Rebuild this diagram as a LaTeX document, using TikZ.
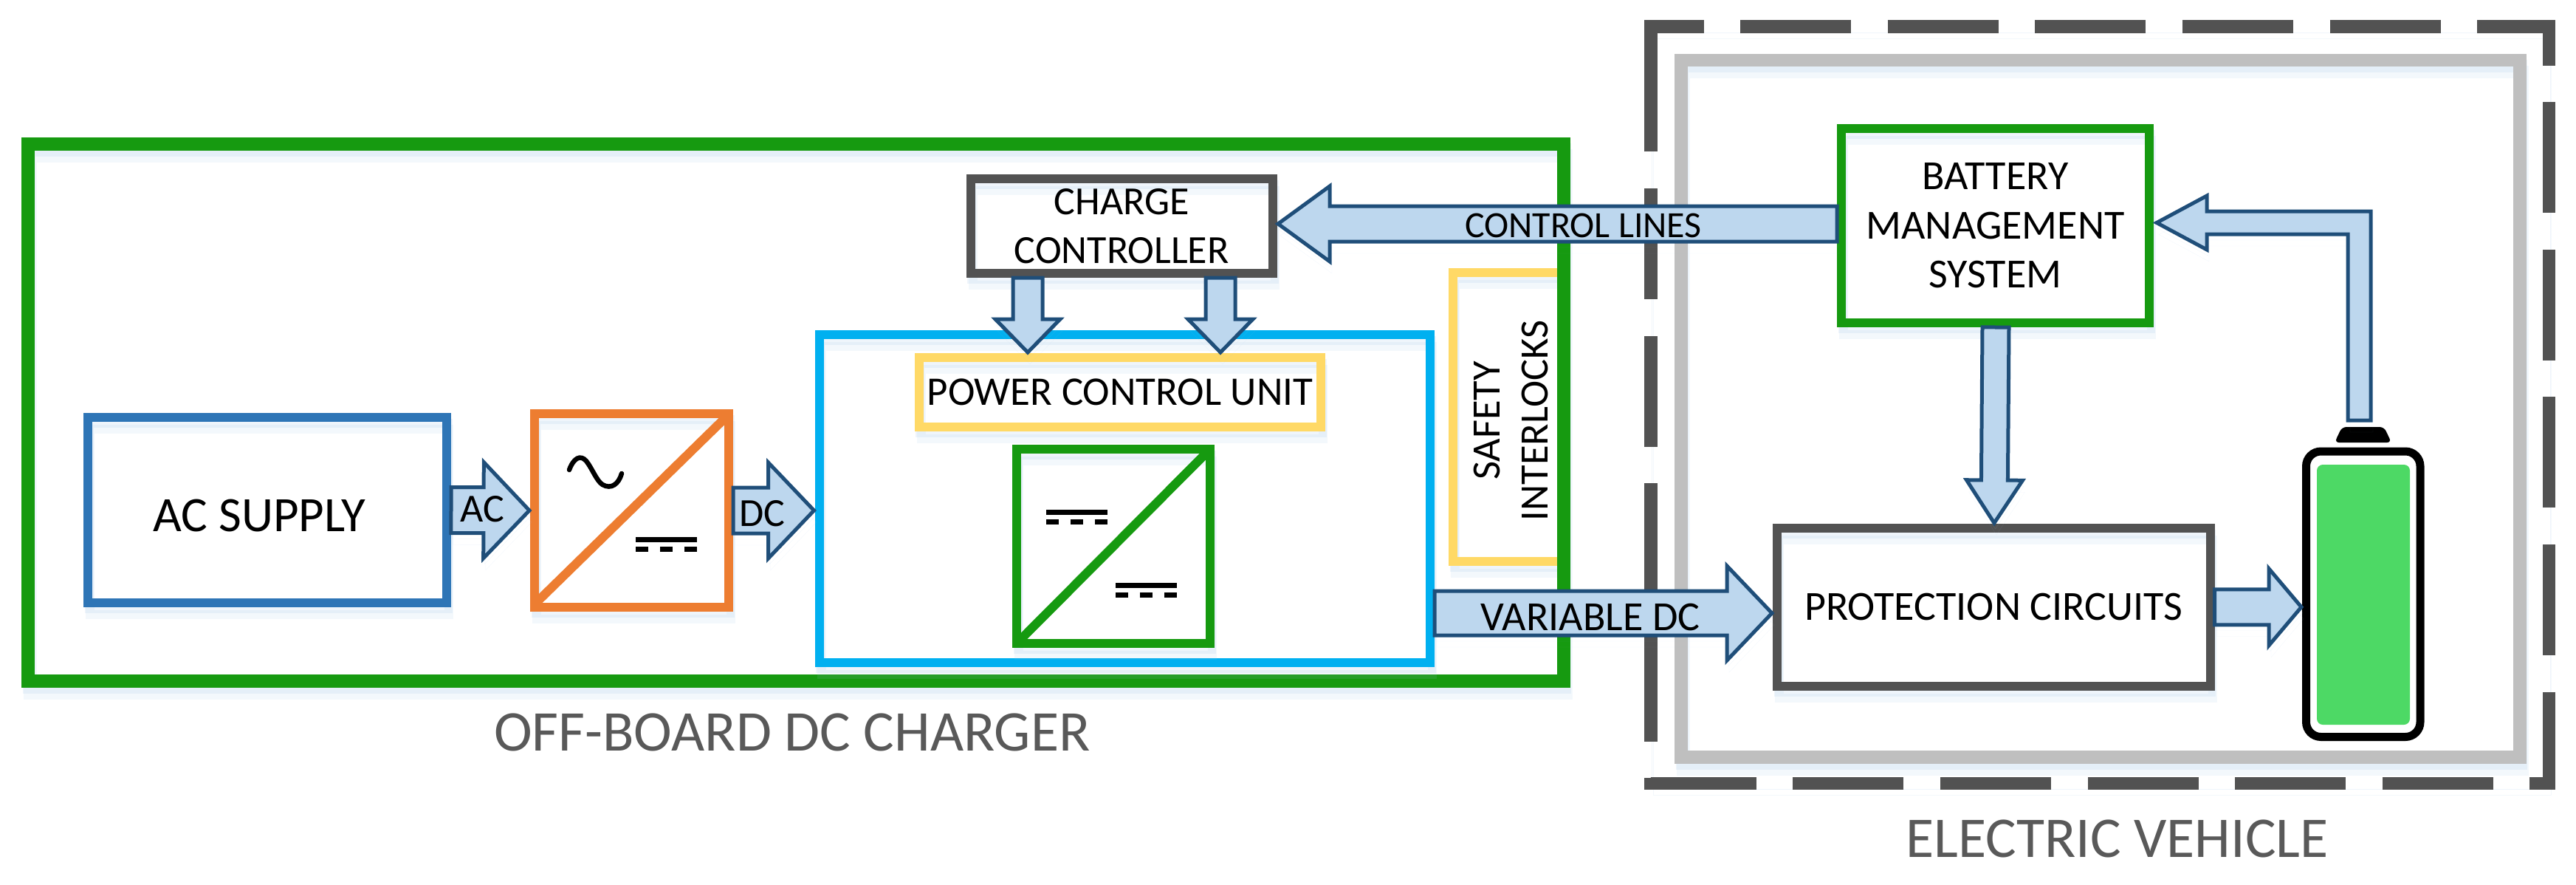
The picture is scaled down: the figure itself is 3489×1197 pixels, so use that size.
\documentclass[tikz,border=0pt]{standalone}
\usepackage{fontspec}
\setmainfont{Carlito}
\usetikzlibrary{calc}
\definecolor{cgreen}{HTML}{169A10}
\definecolor{cblue}{HTML}{2E75B6}
\definecolor{corange}{HTML}{ED7D31}
\definecolor{csky}{HTML}{00B0F0}
\definecolor{cyellow}{HTML}{FFD966}
\definecolor{cdark}{HTML}{525252}
\definecolor{cgray}{HTML}{BFBFBF}
\definecolor{clabel}{HTML}{595959}
\definecolor{cshaft}{HTML}{BDD7EE}
\definecolor{cedge}{HTML}{1F4E79}
\definecolor{cshade}{HTML}{9DC3E6}
\definecolor{ccell}{HTML}{4DD965}
\newcommand\fs[2]{\fontsize{#1pt}{#2pt}\selectfont}
\tikzset{
  softshadow/.style={
    preaction={draw=cshade,draw opacity=.12,transform canvas={shift={(3pt,-16pt)}}},
    preaction={draw=cshade,draw opacity=.16,transform canvas={shift={(1.5pt,-8pt)}}}},
  box/.style={draw,line width=12pt,inner sep=0pt,softshadow,align=center,text=black},
  frame/.style={draw,line width=17.5pt,inner sep=0pt,softshadow},
  blockarrow/.style={draw=cedge,fill=cshaft,line width=5pt,line join=miter,softshadow},
  txt/.style={inner sep=0pt,text=black,align=center},
  biglabel/.style={inner sep=0pt,text=clabel},
}
% from, to, half shaft, half head, head length
\newcommand\blockarrow[5]{%
  \coordinate (ba) at #1; \coordinate (bb) at #2;
  \coordinate (bt) at ($(bb)!1pt!(ba)$);
  \coordinate (bh) at ($(bt)!#5pt!(ba)$);
  \draw[blockarrow] ($(ba)!#3pt!90:(bt)$) -- ($(bh)!#3pt!90:(bt)$) -- ($(bh)!#4pt!90:(bt)$) -- (bt)
    -- ($(bh)!#4pt!-90:(bt)$) -- ($(bh)!#3pt!-90:(bt)$) -- ($(ba)!#3pt!-90:(bt)$) -- cycle;}
\newcommand\dcsym[2]{%
  \begin{scope}[shift={(#1,#2)}]
    \fill (0,0) rectangle (83,7);
    \fill (0,13) rectangle (17,20); \fill (33,13) rectangle (50,20); \fill (66,13) rectangle (83,20);
  \end{scope}}
\begin{document}
\begin{tikzpicture}[x=1pt,y=-1pt]
\useasboundingbox (0,0) rectangle (3489,1197);
% off-board charger
\node[box,draw=cyellow,minimum width=150pt,minimum height=391pt] (safety) at (2043,564.5) {};
\node[frame,draw=cgreen,minimum width=2080pt,minimum height=727pt] (charger) at (1078,558.5) {};
\node[txt,rotate=90,font=\fs{54.5}{65}] (safetytext) at (2046.5,569.5) {SAFETY\\INTERLOCKS};
\node[box,draw=cblue,minimum width=486pt,minimum height=251pt] (supply) at (362,690.5) {};
\node[txt,font=\fs{67}{80}] (supplytext) at (351,698) {AC SUPPLY};
\node[box,draw=corange,minimum width=263pt,minimum height=262pt] (rect) at (855.5,691) {};
\draw[corange,line width=12pt] ($(rect.south west)+(5,-9)$) -- ($(rect.north east)+(-8,9)$);
\draw[line width=6.5pt,line cap=round] (771,636) .. controls (777,620) and (786,615) .. (794,624)
  .. controls (802,634) and (808,651) .. (816,656) .. controls (828,663) and (838,655) .. (842,641);
\dcsym{861}{727}
\node[box,draw=csky,minimum width=827.5pt,minimum height=444pt] (pcu) at (1523.25,675) {};
\node[box,draw=cyellow,minimum width=544.5pt,minimum height=94pt,font=\fs{55}{66}] (pculabel) at (1517,531) {POWER CONTROL UNIT};
\node[box,draw=cgreen,minimum width=262pt,minimum height=263pt] (conv) at (1508,739.5) {};
\draw[cgreen,line width=12pt] ($(conv.south west)+(9,-9)$) -- ($(conv.north east)+(-9,9)$);
\dcsym{1417}{690}
\dcsym{1511}{789}
\node[box,draw=cdark,minimum width=409.5pt,minimum height=128pt,font=\fs{54}{65.5}] (cc) at (1519.25,306) {CHARGE\\CONTROLLER};
\node[biglabel,font=\fs{78}{90}] (chargerlabel) at (1073,991) {OFF-BOARD DC CHARGER};
% vehicle
\draw[cdark,line width=17.5pt,dash pattern=on 150pt off 49.6pt,softshadow] (2236,114.5) -- (2236,36) -- (3452.5,36) -- (3452.5,1060.5) -- (2236,1060.5) -- (2236,114.5);
\node[frame,draw=cgray,minimum width=1136pt,minimum height=943.5pt] (ev) at (2845,553.25) {};
\node[box,draw=cgreen,minimum width=417pt,minimum height=263pt,font=\fs{56}{66.5}] (bms) at (2702.5,305.5) {BATTERY\\MANAGEMENT\\SYSTEM};
\node[box,draw=cdark,minimum width=586.5pt,minimum height=213.5pt,font=\fs{56}{66}] (prot) at (2700.25,821.75) {PROTECTION CIRCUITS};
\node[draw=black,line width=11pt,rounded corners=20pt,minimum width=154.5pt,minimum height=386.5pt,inner sep=0pt] (batt) at (3200.75,804.25) {};
\node[fill=ccell,rounded corners=8pt,minimum width=126pt,minimum height=352pt,inner sep=0pt] (cell) at (3201,805) {};
\fill[rounded corners=6pt] (3162,599) -- (3172,578) -- (3229,578) -- (3239,599) -- cycle;
\node[biglabel,font=\fs{78}{90}] (evlabel) at (2867.5,1135.5) {ELECTRIC VEHICLE};
% block arrows
\blockarrow{(supply.east)}{(rect.west)}{31}{65}{62}
\blockarrow{(rect.east)}{(pcu.west |- rect.east)}{31}{65}{62}
\blockarrow{(cc.south -| 1392,0)}{(pculabel.north -| 1392,0)}{20}{44}{45}
\blockarrow{(cc.south -| 1653,0)}{(pculabel.north -| 1653,0)}{20}{44}{45}
\blockarrow{(bms.west |- 0,303)}{(cc.east |- 0,303)}{24}{51}{70}
\blockarrow{(pcu.east |- 0,830)}{(prot.west |- 0,830)}{30}{64}{61}
\blockarrow{(2703,443)}{(prot.north -| 2701,0)}{18}{38}{58}
\blockarrow{(prot.east)}{(batt.west |- prot.east)}{24}{52}{44}
% feedback arrow from battery to BMS
\coordinate (fbtip) at (2921,301.5);
\draw[blockarrow] (fbtip) -- (2989,265) -- (2989,286) -- (3211,286) -- (3211,569) -- (3180,569) -- (3180,317) -- (2989,317) -- (2989,338) -- cycle;
% arrow labels
\node[txt,font=\fs{54}{60}] (aclabel) at (653,689) {AC};
\node[txt,font=\fs{54}{60}] (dclabel) at (1032,695) {DC};
\node[txt,font=\fs{50}{60}] (controllabel) at (2144.5,305) {CONTROL LINES};
\node[txt,font=\fs{56}{60}] (vdclabel) at (2154,836) {VARIABLE DC};
\end{tikzpicture}
\end{document}
